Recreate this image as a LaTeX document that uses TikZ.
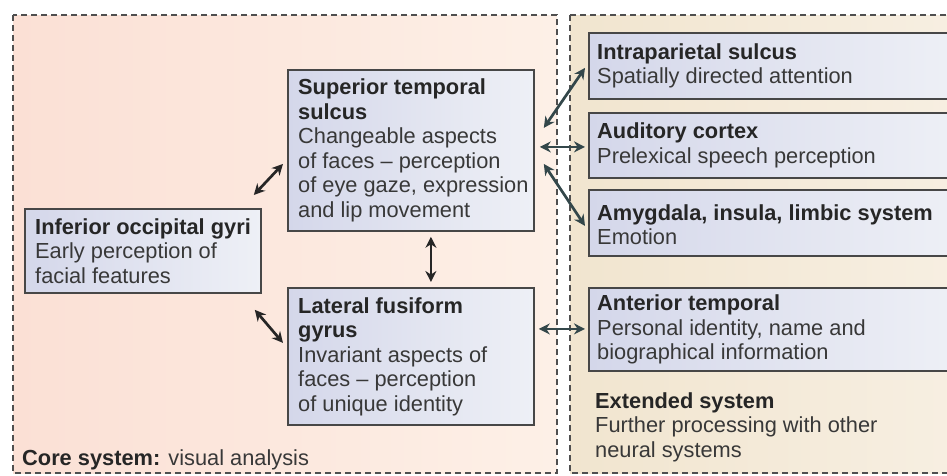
\documentclass[tikz,border=0pt]{standalone}
\usepackage{fontspec}
\setmainfont{Liberation Sans}
\usetikzlibrary{arrows.meta,calc}
\definecolor{boxline}{HTML}{474747}
\definecolor{boxL}{HTML}{D4D7EA}
\definecolor{boxR}{HTML}{EEF0F6}
\definecolor{coreL}{HTML}{FBE0D5}
\definecolor{coreR}{HTML}{FDF0E7}
\definecolor{extL}{HTML}{F1E5CF}
\definecolor{extR}{HTML}{F7EFE2}
\definecolor{dashcol}{HTML}{4F4F4F}
\definecolor{txtcol}{HTML}{383838}
\definecolor{titcol}{HTML}{262626}
\definecolor{arrdark}{HTML}{262626}
\definecolor{arrteal}{HTML}{33474A}
\tikzset{
  region/.style={draw=dashcol, line width=1.5pt, dash pattern=on 6pt off 4pt},
  sysbox/.style={draw=boxline, line width=1.8pt, left color=boxL, right color=boxR, anchor=north west, inner sep=0pt},
  txt/.style={align=left, inner sep=0pt, anchor=west, text=txtcol, font=\fontsize{21.8}{24.5}\selectfont},
  conn/.style={{Stealth[length=11pt,width=11pt]}-{Stealth[length=11pt,width=11pt]}, line width=2.7pt, draw=arrdark},
  connr/.style={conn, draw=arrteal},
}
\newcommand{\ttl}[1]{\textcolor{titcol}{\textbf{#1}}}
\begin{document}
\begin{tikzpicture}[x=1pt,y=-1pt]
\useasboundingbox (0,0) rectangle (947,475);
\clip (0,0) rectangle (947,475);
\fill[white] (0,0) rectangle (947,475);
% regions
\shade[left color=coreL, right color=coreR] (13,15) rectangle (557,473);
\draw[region] (13,15) rectangle (557,473);
\shade[left color=extL, right color=extR] (570,15) rectangle (965,473);
\draw[region] (570,15) rectangle (965,473);
% core boxes
\node[sysbox, minimum width=246pt, minimum height=161pt] (sts) at (287,69) {};
\node[sysbox, minimum width=236pt, minimum height=84pt] (iog) at (24,208) {};
\node[sysbox, minimum width=246pt, minimum height=137pt] (lfg) at (287,287) {};
% extended boxes
\node[sysbox, minimum width=372pt, minimum height=66pt] (ips) at (588,32) {};
\node[sysbox, minimum width=372pt, minimum height=65pt] (aud) at (588,112) {};
\node[sysbox, minimum width=372pt, minimum height=66pt] (amy) at (588,189) {};
\node[sysbox, minimum width=372pt, minimum height=83pt] (ant) at (588,287) {};
% texts
\node[txt] (ststxt) at ([xshift=11pt]sts.west) {\ttl{Superior temporal}\\\ttl{sulcus}\\Changeable aspects\\of faces – perception\\of eye gaze, expression\\and lip movement};
\node[txt] (iogtxt) at ([xshift=11pt]iog.west) {\ttl{Inferior occipital gyri}\\Early perception of\\facial features};
\node[txt] (lfgtxt) at ([xshift=11pt]lfg.west) {\ttl{Lateral fusiform}\\\ttl{gyrus}\\Invariant aspects of\\faces – perception\\of unique identity};
\node[txt] (ipstxt) at ([xshift=9pt]ips.west) {\ttl{Intraparietal sulcus}\\Spatially directed attention};
\node[txt] (audtxt) at ([xshift=9pt]aud.west) {\ttl{Auditory cortex}\\Prelexical speech perception};
\node[txt] (amytxt) at ([xshift=9pt,yshift=-2pt]amy.west) {\ttl{Amygdala, insula, limbic system}\\Emotion};
\node[txt] (anttxt) at ([xshift=9pt]ant.west) {\ttl{Anterior temporal}\\Personal identity, name and\\biographical information};
\node[txt, anchor=base west] (core) at (22,465) {\ttl{Core system:} visual analysis};
\node[txt, anchor=north west] (ext) at (595,392) {\ttl{Extended system}\\Further processing with other\\neural systems};
% connectors
\draw[conn] ([shift={(-8,-13)}]iog.north east) -- ([shift={(-4,13.5)}]sts.west);
\draw[conn] ([shift={(-7,16)}]iog.south east) -- ([shift={(-4,-13.5)}]lfg.west);
\draw[conn] ([shift={(20,5)}]sts.south) -- ([shift={(20,-5)}]lfg.north);
\draw[connr] ([shift={(9,-22.5)}]sts.east) -- ([shift={(-3,2)}]ips.west);
\draw[connr] ([shift={(5,-3.5)}]sts.east) -- ([shift={(-3,1.5)}]aud.west);
\draw[connr] ([shift={(9,13.5)}]sts.east) -- ([shift={(-3,3)}]amy.west);
\draw[connr] ([shift={(4,-27.5)}]lfg.east) -- ([shift={(-3,-0.5)}]ant.west);
\end{tikzpicture}
\end{document}
